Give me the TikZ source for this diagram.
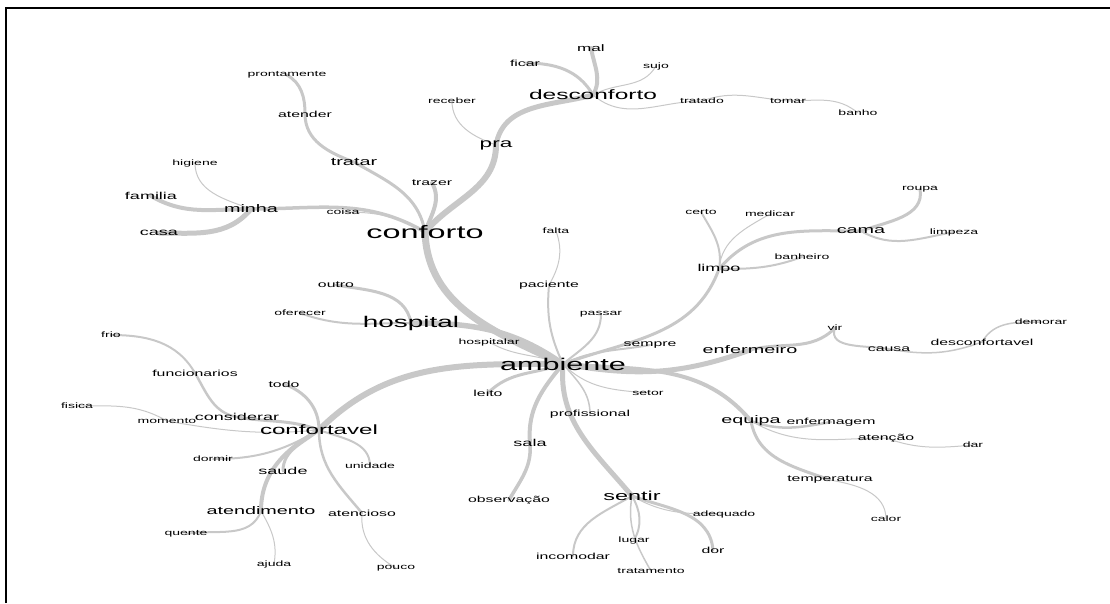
\documentclass[tikz,border=0pt]{standalone}
\usepackage{fontspec}
\newfontfamily\wordfont[FakeStretch=1.8]{Liberation Sans}
\usetikzlibrary{backgrounds}
\definecolor{branchgray}{RGB}{200,200,200}

\begin{document}
\begin{tikzpicture}[x=1pt,y=1pt,
    word/.style={font={\fontsize{#1}{#1}\wordfont}, inner sep=0pt},
    link/.style={draw=branchgray, line width=#1, line cap=round}]
  \useasboundingbox (0,0) rectangle (1110,-603);
  \draw[line width=2.5pt] (6,-603) -- (6,-8) -- (1110,-8);

  % main terms
  \node[word=18]   (conforto)    at (425,-232) {conforto};
  \node[word=17]   (ambiente)    at (563,-364) {ambiente};
  \node[word=15.5] (hospital)    at (411,-323) {hospital};
  \node[word=13.6] (desconforto) at (593,-95)  {desconforto};
  \node[word=13.4] (confortavel) at (319,-430) {confortavel};
  \node[word=13]   (sentir)      at (632,-496) {sentir};
  \node[word=12.5] (pra)         at (496,-145) {pra};
  \node[word=11]   (enfermeiro)  at (750,-350) {enfermeiro};
  \node[word=11]   (equipa)      at (751,-421) {equipa};
  \node[word=11]   (cama)        at (861,-231) {cama};
  \node[word=11]   (minha)       at (251,-209) {minha};
  \node[word=11]   (tratar)      at (354,-162) {tratar};
  \node[word=11]   (atendimento) at (261,-511) {atendimento};
  \node[word=10]   (familia)     at (151,-196) {familia};
  \node[word=10]   (casa)        at (159,-233) {casa};
  \node[word=10]   (limpo)       at (719,-269) {limpo};
  \node[word=10]   (considerar)  at (237,-417) {considerar};
  \node[word=10]   (saude)       at (283,-471) {saude};
  \node[word=10]   (sala)        at (530,-443) {sala};

  % other terms
  \node[word=9.5] (mal)            at (591,-48)  {mal};
  \node[word=8.8] (ficar)          at (525,-63)  {ficar};
  \node[word=8.8] (paciente)       at (549,-285) {paciente};
  \node[word=8.8] (outro)          at (336,-285) {outro};
  \node[word=8.8] (trazer)         at (432,-183) {trazer};
  \node[word=8.8] (atender)        at (305,-114) {atender};
  \node[word=8.8] (atencioso)      at (362,-513) {atencioso};
  \node[word=8.8] (temperatura)    at (830,-480) {temperatura};
  \node[word=8.8] (observacao)     at (509,-500) {observação};
  \node[word=8.8] (profissional)   at (590,-414) {profissional};
  \node[word=8.8] (funcionarios)   at (195,-373) {funcionarios};
  \node[word=8.8] (incomodar)      at (573,-556) {incomodar};
  \node[word=8.8] (desconfortavel) at (982,-342) {desconfortavel};
  \node[word=8.8] (atencao)        at (886,-438) {atenção};
  \node[word=8.8] (enfermagem)     at (831,-422) {enfermagem};
  \node[word=8.8] (sempre)         at (650,-345) {sempre};
  \node[word=8.8] (causa)          at (889,-349) {causa};
  \node[word=8.8] (todo)           at (284,-384) {todo};
  \node[word=8.8] (dor)            at (713,-550) {dor};
  \node[word=8.8] (leito)          at (488,-393) {leito};
  \node[word=7.8] (sujo)        at (656,-66)  {sujo};
  \node[word=7.8] (tratado)     at (702,-101) {tratado};
  \node[word=7.8] (tomar)       at (788,-101) {tomar};
  \node[word=7.8] (banho)       at (858,-113) {banho};
  \node[word=7.8] (receber)     at (452,-101) {receber};
  \node[word=7.8] (prontamente) at (287,-75)  {prontamente};
  \node[word=7.8] (higiene)     at (195,-163) {higiene};
  \node[word=7.8] (coisa)       at (343,-212) {coisa};
  \node[word=7.8] (falta)       at (556,-231) {falta};
  \node[word=7.8] (certo)       at (701,-212) {certo};
  \node[word=7.8] (medicar)     at (770,-214) {medicar};
  \node[word=7.8] (roupa)       at (920,-189) {roupa};
  \node[word=7.8] (limpeza)     at (954,-232) {limpeza};
  \node[word=7.8] (banheiro)    at (802,-257) {banheiro};
  \node[word=7.8] (passar)      at (601,-314) {passar};
  \node[word=7.8] (oferecer)    at (300,-313) {oferecer};
  \node[word=7.8] (frio)        at (111,-335) {frio};
  \node[word=7.8] (hospitalar)  at (489,-342) {hospitalar};
  \node[word=7.8] (vir)         at (835,-328) {vir};
  \node[word=7.8] (demorar)     at (1041,-322) {demorar};
  \node[word=7.8] (setor)       at (648,-393) {setor};
  \node[word=7.8] (fisica)      at (77,-406)  {fisica};
  \node[word=7.8] (momento)     at (167,-421) {momento};
  \node[word=7.8] (dar)         at (973,-445) {dar};
  \node[word=7.8] (dormir)      at (213,-459) {dormir};
  \node[word=7.8] (unidade)     at (370,-466) {unidade};
  \node[word=7.8] (adequado)    at (724,-514) {adequado};
  \node[word=7.8] (calor)       at (886,-519) {calor};
  \node[word=7.8] (quente)      at (186,-534) {quente};
  \node[word=7.8] (lugar)       at (634,-540) {lugar};
  \node[word=7.8] (ajuda)       at (274,-564) {ajuda};
  \node[word=7.8] (pouco)       at (396,-568) {pouco};
  \node[word=7.8] (tratamento)  at (651,-571) {tratamento};

  \begin{pgfonlayer}{background}
    % ambiente
    \draw[link=7pt] (conforto.center) to[out=-88,in=155] (ambiente.center);
    \draw[link=5.5pt] (ambiente.center) to[out=145,in=0] (hospital.center);
    \draw[link=6pt] (ambiente.center) to[out=180,in=45] (confortavel.center);
    \draw[link=5pt] (ambiente.center) to[out=-95,in=130] (sentir.center);
    \draw[link=5pt] (ambiente.center) to[out=-10,in=200] (enfermeiro.center);
    \draw[link=4pt] (ambiente.center) to[out=-5,in=130] (equipa.center);
    \draw[link=3pt] (ambiente.center) to[out=20,in=-110] (limpo.center);
    \draw[link=4pt] (ambiente.center) to[out=-130,in=95] (sala.center);
    \draw[link=3pt] (ambiente.center) to[out=200,in=45] (leito.center);
    \draw[link=2pt] (ambiente.center) to[out=115,in=-95] (paciente.center);
    \draw[link=2pt] (ambiente.center) to[out=40,in=-90] (passar.center);
    \draw[link=2pt] (ambiente.center) to[out=25,in=190] (sempre.center);
    \draw[link=1pt] (ambiente.center) to[out=160,in=-30] (hospitalar.center);
    \draw[link=1pt] (ambiente.center) to[out=-45,in=175] (setor.center);
    \draw[link=1.5pt] (ambiente.center) to[out=-50,in=90] (profissional.center);
    \draw[link=1pt] (paciente.center) to[out=60,in=-70] (falta.center);
    \draw[link=3.5pt] (sala.center) to[out=-85,in=60] (observacao.center);
    % conforto
    \draw[link=6pt] (conforto.center) to[out=50,in=-90] (pra.center);
    \draw[link=5pt] (pra.center) to[out=80,in=195] (desconforto.center);
    \draw[link=1pt] (pra.center) to[out=160,in=-90] (receber.center);
    \draw[link=4pt] (desconforto.center) to[out=60,in=-80] (mal.center);
    \draw[link=3pt] (desconforto.center) to[out=120,in=0] (ficar.center);
    \draw[link=1pt] (desconforto.center) to[out=30,in=-120] (sujo.center);
    \draw[link=1pt] (desconforto.center) to[out=-40,in=180] (tratado.center);
    \draw[link=1pt] (tratado.center) to[out=20,in=175] (tomar.center);
    \draw[link=1pt] (tomar.center) to[out=0,in=140] (banho.center);
    \draw[link=4pt] (conforto.center) to[out=70,in=-60] (trazer.center);
    \draw[link=3pt] (conforto.center) to[out=100,in=-30] (tratar.center);
    \draw[link=3pt] (tratar.center) to[out=160,in=-90] (atender.center);
    \draw[link=3pt] (atender.center) to[out=90,in=-30] (prontamente.center);
    \draw[link=3.5pt] (conforto.center) to[out=150,in=0] (minha.center);
    \draw[link=1pt] (conforto.center) to[out=150,in=0] (coisa.center);
    \draw[link=4pt] (minha.center) to[out=180,in=-30] (familia.center);
    \draw[link=5pt] (minha.center) to[out=-130,in=0] (casa.center);
    \draw[link=1pt] (minha.center) to[out=160,in=-90] (higiene.center);
    % hospital
    \draw[link=3pt] (hospital.center) to[out=100,in=-10] (outro.center);
    \draw[link=2pt] (hospital.center) to[out=180,in=-20] (oferecer.center);
    % limpo
    \draw[link=2pt] (limpo.center) to[out=80,in=-60] (certo.center);
    \draw[link=1pt] (limpo.center) to[out=85,in=-150] (medicar.center);
    \draw[link=3pt] (limpo.center) to[out=50,in=180] (cama.center);
    \draw[link=2pt] (limpo.center) to[out=0,in=200] (banheiro.center);
    \draw[link=3pt] (cama.center) to[out=20,in=-80] (roupa.center);
    \draw[link=2pt] (cama.center) to[out=-30,in=190] (limpeza.center);
    % enfermeiro
    \draw[link=3pt] (enfermeiro.center) to[out=15,in=-135] (vir.center);
    \draw[link=2pt] (vir.center) to[out=-110,in=170] (causa.center);
    \draw[link=1.5pt] (causa.center) to[out=-10,in=200] (desconfortavel.center);
    \draw[link=1.5pt] (desconfortavel.center) to[out=60,in=180] (demorar.center);
    % equipa
    \draw[link=2.5pt] (equipa.center) to[out=-20,in=190] (enfermagem.center);
    \draw[link=1pt] (equipa.center) to[out=-30,in=180] (atencao.center);
    \draw[link=1pt] (atencao.center) to[out=-20,in=185] (dar.center);
    \draw[link=3pt] (equipa.center) to[out=-80,in=160] (temperatura.center);
    \draw[link=1pt] (temperatura.center) to[out=-10,in=90] (calor.center);
    % sentir
    \draw[link=2pt] (sentir.center) to[out=-150,in=90] (incomodar.center);
    \draw[link=2pt] (sentir.center) to[out=-60,in=60] (lugar.center);
    \draw[link=1.5pt] (sentir.center) to[out=-100,in=120] (tratamento.center);
    \draw[link=1pt] (sentir.center) to[out=-30,in=180] (adequado.center);
    \draw[link=3pt] (sentir.center) to[out=-20,in=95] (dor.center);
    % confortavel
    \draw[link=3pt] (confortavel.center) to[out=160,in=-10] (considerar.center);
    \draw[link=2.5pt] (considerar.center) to[out=170,in=-60] (funcionarios.center);
    \draw[link=2pt] (funcionarios.center) to[out=120,in=0] (frio.center);
    \draw[link=1pt] (confortavel.center) to[out=185,in=-10] (momento.center);
    \draw[link=1pt] (momento.center) to[out=150,in=0] (fisica.center);
    \draw[link=3pt] (confortavel.center) to[out=90,in=-20] (todo.center);
    \draw[link=2pt] (confortavel.center) to[out=-150,in=0] (dormir.center);
    \draw[link=3pt] (confortavel.center) to[out=-140,in=90] (saude.center);
    \draw[link=4pt] (confortavel.center) to[out=-150,in=90] (atendimento.center);
    \draw[link=2pt] (atendimento.center) to[out=-110,in=10] (quente.center);
    \draw[link=1pt] (atendimento.center) to[out=-60,in=80] (ajuda.center);
    \draw[link=2pt] (confortavel.center) to[out=-20,in=90] (unidade.center);
    \draw[link=2.5pt] (confortavel.center) to[out=-90,in=130] (atencioso.center);
    \draw[link=1pt] (atencioso.center) to[out=-95,in=150] (pouco.center);
  \end{pgfonlayer}
\end{tikzpicture}
\end{document}
